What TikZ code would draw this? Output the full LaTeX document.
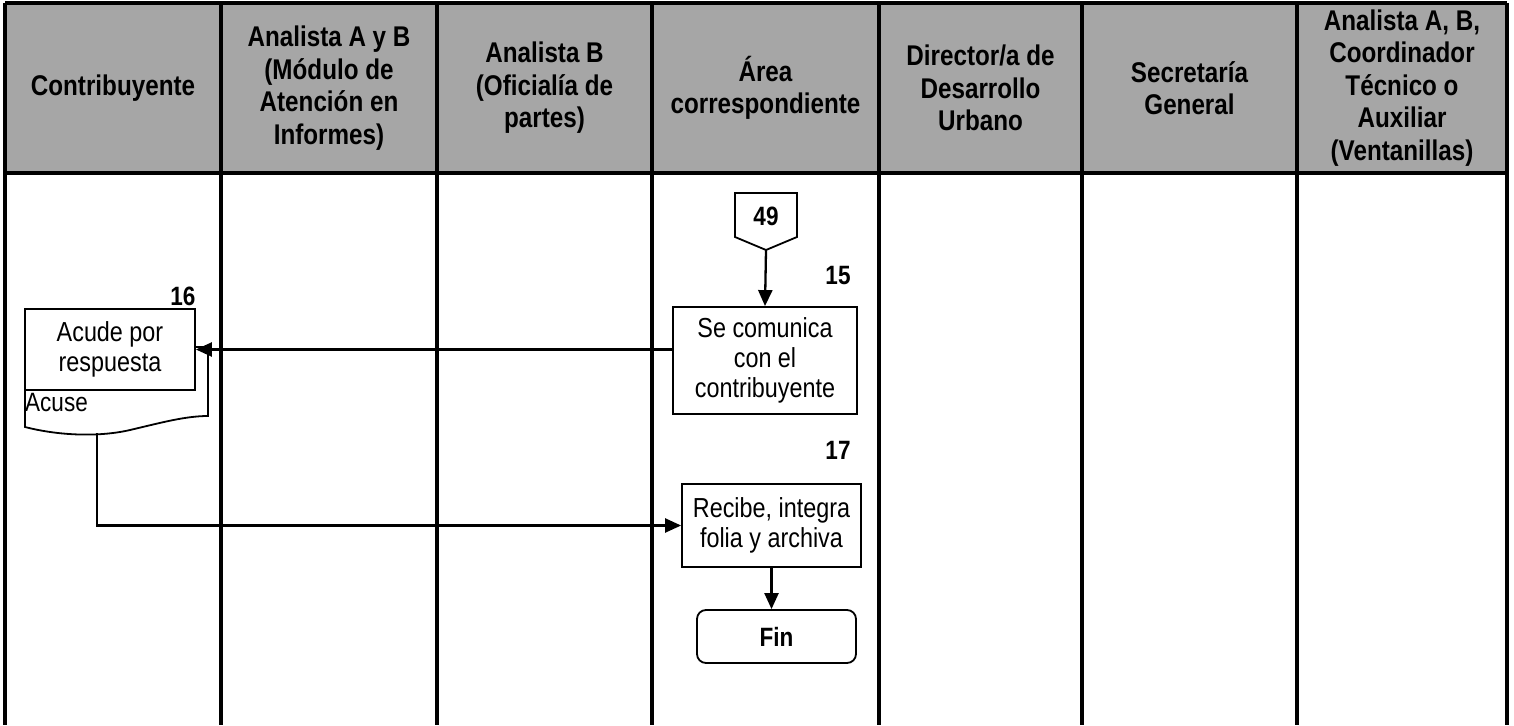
\documentclass[tikz,border=0pt]{standalone}
\usepackage{fontspec}
\setmainfont[FakeStretch=0.85]{Liberation Sans}
\usepackage{tikz}
\usetikzlibrary{positioning,arrows.meta}
\definecolor{headgray}{RGB}{166,166,166}

\begin{document}
\begin{tikzpicture}[x=1pt,y=-1pt,
    lane/.style={line width=3.2pt},
    head/.style={font=\bfseries\fontsize{28.5}{32.5}\selectfont,align=center},
    proc/.style={draw,fill=white,line width=1.8pt,align=center,inner sep=0pt,
                 font=\fontsize{27.5}{30}\selectfont},
    num/.style={font=\bfseries\fontsize{26.5}{30}\selectfont},
    shp/.style={draw,line width=1.8pt},
    flow/.style={line width=2.3pt,-{Triangle[length=16pt,width=14pt]}}]

  \useasboundingbox (0,0) rectangle (1514,725);

  % lanes
  \fill[headgray] (5,3) rectangle (1507,173);
  \draw[lane] (5,3) -- (1507,3);
  \draw[lane] (5,173) -- (1507,173);
  \foreach \x in {5,221,437,652,879,1082,1297,1507}
    \draw[lane] (\x,3) -- (\x,725);

  \node[head] (hd1) at (113,88) {Contribuyente};
  \node[head] (hd2) at (329,88) {Analista A y B\\(Módulo de\\Atención en\\Informes)};
  \node[head] (hd3) at (544.5,88) {Analista B\\(Oficialía de\\partes)};
  \node[head] (hd4) at (765.5,88) {Área\\correspondiente};
  \node[head] (hd5) at (980.5,88) {Director/a de\\Desarrollo\\Urbano};
  \node[head] (hd6) at (1189.5,88) {Secretaría\\General};
  \node[head] (hd7) at (1402,88) {Analista A, B,\\Coordinador\\Técnico o\\Auxiliar\\(Ventanillas)};

  % conector 49
  \draw[shp] (735,193) -- (797,193) -- (797,237) -- (766,250) -- (735,237) -- cycle;
  \node[num] (c49) at (766,216) {49};
  \coordinate (c49tip) at (766,250);

  % documento acuse
  \draw[shp] (195,347) -- (208,347) -- (208,416)
    .. controls (185,416) and (160,423) .. (130,430)
    .. controls (100,437) and (60,436) .. (25,427) -- (25,390);
  \node[anchor=west,inner sep=0pt,font=\fontsize{26.5}{30}\selectfont] (acuse) at (25,403) {Acuse};
  \coordinate (acusebot) at (97,433);

  \node[proc,minimum width=170,minimum height=81] (acude) at (110,349.5) {Acude por\\respuesta};
  \node[num] (n16) at (183,296) {16};

  \node[proc,minimum width=184,minimum height=107] (comunica) at (765,360.5)
    {Se comunica\\con el\\contribuyente};
  \node[num] (n15) at (838,276) {15};

  \node[num] (n17) at (838,450) {17};
  \node[proc,minimum width=179,minimum height=83] (recibe) at (771.5,525.5)
    {Recibe, integra\\folia y archiva};

  \node[proc,rounded corners=9pt,minimum width=159,minimum height=53,
        font=\bfseries\fontsize{26.5}{30}\selectfont] (fin) at (776.5,636.5) {Fin};

  % flujo
  \draw[flow] (c49tip) -- (comunica.north);
  \draw[flow] (comunica.west |- acude.east) -- (acude.east);
  \draw[flow] (acusebot) |- (recibe.west);
  \draw[flow] (recibe.south) -- (recibe.south |- fin.north);
\end{tikzpicture}
\end{document}
